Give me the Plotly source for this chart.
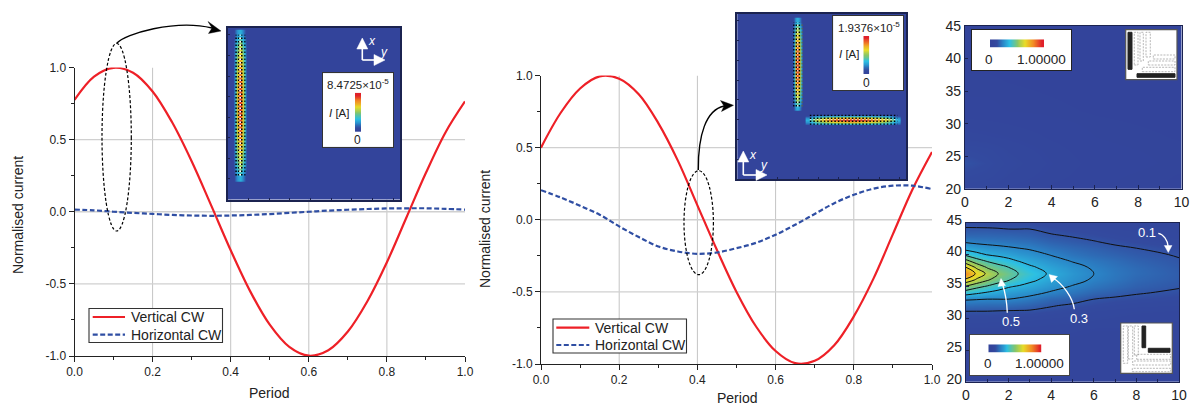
import plotly.graph_objects as go

W, H = 1192, 406
PERIOD = [0, .05, .1, .15, .2, .25, .3, .35, .4, .45, .5, .55, .6, .65, .7, .75, .8, .85, .9, .95, 1]
A_VERT = [.775, .937, .998, .964, .834, .62, .35, .044, -.267, -.552, -.783, -.937, -.998, -.96, -.83, -.62, -.35, -.04, .27, .55, .765]
A_HORZ = [.015, .01, 0, -.008, -.015, -.022, -.026, -.028, -.026, -.022, -.016, -.008, 0, .008, .014, .019, .023, .024, .024, .02, .015]
B_VERT = [.5, .74, .91, .994, .978, .87, .67, .41, .10, -.21, -.50, -.74, -.91, -.994, -.978, -.87, -.67, -.41, -.10, .21, .47]
B_HORZ = [.205, .155, .097, .035, -.046, -.12, -.185, -.22, -.236, -.227, -.197, -.16, -.104, -.035, .04, .115, .173, .215, .236, .236, .213]
SERIES = ["Vertical CW", "Horizontal CW"]
GRID_X = [.2, .4, .6, .8]
GRID_Y = [-.5, 0, .5]
X_TICKS = [0, .2, .4, .6, .8, 1]
X_LABELS = ["0.0", "0.2", "0.4", "0.6", "0.8", "1.0"]
Y_TICKS = [-1, -.5, 0, .5, 1]
Y_LABELS = ["-1.0", "-0.5", "0.0", "0.5", "1.0"]

MAP_X = [0, .5, 1, 1.5, 2, 2.5, 3, 4, 5, 6, 7, 8, 10]
MAP_Y = [20, 25, 28, 30, 31, 32, 33, 34, 35, 36, 37, 38, 39, 40, 41, 42, 43, 44, 45]
MAP_Z = [
    [.01] * 13,
    [.02] * 13,
    [.04, .04, .04, .04, .04, .04, .04, .035, .035, .03, .03, .03, .025],
    [.07, .07, .07, .067, .065, .065, .065, .06, .055, .05, .045, .04, .035],
    [.095, .095, .095, .092, .09, .09, .09, .08, .07, .06, .055, .05, .045],
    [.145, .142, .14, .14, .14, .133, .125, .105, .09, .08, .07, .065, .06],
    [.21, .205, .2, .2, .2, .19, .175, .14, .125, .10, .09, .085, .075],
    [.345, .315, .29, .27, .25, .235, .225, .19, .165, .135, .12, .105, .09],
    [.49, .43, .39, .345, .31, .29, .27, .23, .195, .165, .145, .125, .105],
    [.67, .58, .51, .45, .405, .36, .32, .265, .225, .19, .165, .14, .115],
    [.82, .68, .58, .505, .445, .395, .35, .285, .235, .2, .17, .148, .118],
    [.70, .58, .49, .44, .40, .36, .315, .265, .225, .19, .165, .145, .113],
    [.53, .44, .39, .355, .325, .295, .27, .23, .195, .17, .15, .13, .105],
    [.375, .33, .295, .28, .265, .245, .23, .195, .165, .145, .13, .115, .095],
    [.265, .245, .23, .22, .21, .2, .19, .16, .14, .125, .11, .10, .08],
    [.19, .18, .175, .17, .165, .16, .155, .13, .115, .103, .09, .08, .065],
    [.14, .14, .14, .137, .135, .13, .125, .105, .095, .085, .075, .065, .055],
    [.105, .105, .105, .103, .10, .10, .10, .085, .075, .07, .06, .055, .045],
    [.085, .083, .08, .08, .08, .08, .08, .07, .06, .055, .05, .045, .04],
]
MAP_LEVELS = (.1, .7, .1)
TOP_X = [0, 1, 2, 4, 6, 10]
TOP_Y = [20, 22, 24, 26, 28, 32, 45]
TOP_Z = [
    [.05, .04, .03, .015, .01, .005],
    [.075, .065, .045, .025, .012, .006],
    [.095, .08, .055, .03, .015, .008],
    [.075, .065, .045, .025, .012, .008],
    [.04, .035, .03, .018, .01, .006],
    [.012, .012, .01, .008, .006, .004],
    [0, 0, 0, 0, 0, 0],
]
BAR_Z = [
    [0, .14, .24, .3, .22, .08, 0],
    [0, .26, .42, .6, .44, .2, 0],
    [0, .3, .54, .76, .56, .24, 0],
    [0, .32, .62, .86, .64, .26, 0],
    [0, .34, .68, .94, .7, .28, 0],
    [0, .35, .72, .98, .72, .28, 0],
    [0, .35, .74, 1, .74, .28, 0],
    [0, .35, .72, .98, .72, .28, 0],
    [0, .34, .68, .94, .7, .28, 0],
    [0, .32, .62, .86, .64, .26, 0],
    [0, .3, .54, .76, .56, .24, 0],
    [0, .26, .42, .6, .44, .2, 0],
    [0, .14, .24, .3, .22, .08, 0],
]
STRIP = [0, .1, .2, .3, .4, .5, .6, .7, .8, .9, 1]
RAINBOW = [[0, "#33449b"], [.08, "#334a9f"], [.2, "#2a86c8"], [.33, "#2cc0e4"], [.5, "#86c66a"],
           [.66, "#e8dc28"], [.83, "#f28a24"], [1, "#e0202a"]]
INK = "#222222"
FONT = "Liberation Sans, Arial, sans-serif"
NAVY = "#1b2350"

fig = go.Figure()
layout = dict(width=W, height=H, margin=dict(l=0, r=0, t=0, b=0), autosize=False, plot_bgcolor="white",
              paper_bgcolor="white", font=dict(family=FONT, size=12, color=INK), shapes=[], annotations=[],
              showlegend=False)
count = [0]

def fx(p):
    return p / W

def fy(p):
    return 1 - p / H

def axes(l, t, r, b, xopts, yopts):
    count[0] += 1
    n = count[0]
    sfx = "" if n == 1 else str(n)
    xa = dict(domain=[fx(l), fx(r)], anchor="y" + sfx, showgrid=False, zeroline=False, automargin=False)
    ya = dict(domain=[fy(b), fy(t)], anchor="x" + sfx, showgrid=False, zeroline=False, automargin=False)
    xa.update(xopts)
    ya.update(yopts)
    layout["xaxis" + sfx] = xa
    layout["yaxis" + sfx] = ya
    return "x" + sfx, "y" + sfx

def chart(l, r, t, b, xs, vert, horz):
    xa, ya = axes(l, t, r, b,
                  dict(range=[0, 1], tickmode="array", tickvals=X_TICKS, ticktext=X_LABELS, ticks="outside", ticklen=5,
                       tickwidth=1, showline=True, linecolor=INK, linewidth=1, tickcolor=INK,
                       minor=dict(dtick=.1, ticks="outside", ticklen=3, tickcolor=INK)),
                  dict(range=[-1, 1], tickmode="array", tickvals=Y_TICKS, ticktext=Y_LABELS, ticks="outside", ticklen=5,
                       tickwidth=1, showline=True, linecolor=INK, linewidth=1, tickcolor=INK,
                       minor=dict(dtick=.25, ticks="outside", ticklen=3, tickcolor=INK)))
    for g in GRID_X:
        layout["shapes"].append(dict(type="line", xref=xa, yref=ya, x0=g, x1=g, y0=-1, y1=1, layer="below",
                                     line=dict(color="#c4c4c4", width=1)))
    for g in GRID_Y:
        layout["shapes"].append(dict(type="line", xref=xa, yref=ya, x0=0, x1=1, y0=g, y1=g, layer="below",
                                     line=dict(color="#d0d0d0", width=1.3)))
    fig.add_trace(go.Scatter(x=xs, y=vert, name=SERIES[0], mode="lines", xaxis=xa, yaxis=ya,
                             line=dict(color="#ee2027", width=2.2, shape="spline")))
    fig.add_trace(go.Scatter(x=xs, y=horz, name=SERIES[1], mode="lines", xaxis=xa, yaxis=ya,
                             line=dict(color="#2f4ea3", width=2.2, shape="spline", dash="5px,2.5px")))

def solid(xa, ya, color):
    fig.add_trace(go.Heatmap(z=[[0, 0], [0, 0]], x=[0, 100], y=[0, 100], xaxis=xa, yaxis=ya, showscale=False,
                             colorscale=[[0, color], [1, color]], zmin=0, zmax=1, hoverinfo="skip"))

def inset(l, t, r, b):
    tick = dict(range=[0, 100], tick0=0, dtick=12, ticks="inside", ticklen=2, tickcolor=NAVY, showticklabels=False,
                showline=True, mirror=True, linecolor=NAVY, linewidth=1.5)
    xa, ya = axes(l, t, r, b, dict(tick), dict(tick))
    solid(xa, ya, "#33449b")
    return xa, ya

def heat(xa, ya, x, y, z):
    fig.add_trace(go.Heatmap(z=z, x=x, y=y, xaxis=xa, yaxis=ya, showscale=False, colorscale=RAINBOW, zmin=0, zmax=1,
                             zsmooth="best", hoverinfo="skip"))

def dots(xa, ya, x, y, color, width=1.5):
    fig.add_trace(go.Scatter(x=x, y=y, mode="lines", xaxis=xa, yaxis=ya, showlegend=False, hoverinfo="skip",
                             line=dict(color=color, width=width, dash="1.5px,2px")))

def white_box(l, t, r, b, border="#333333"):
    opts = dict(range=[0, 100], showticklabels=False, ticks="", showline=True, mirror=True, linecolor=border, linewidth=1.2)
    xa, ya = axes(l, t, r, b, dict(opts), dict(opts))
    solid(xa, ya, "white")

def strip(l, t, r, b, vertical):
    opts = dict(showticklabels=False, ticks="", showline=False)
    xa, ya = axes(l, t, r, b, dict(opts), dict(opts))
    if vertical:
        fig.add_trace(go.Heatmap(z=[[v] for v in STRIP], xaxis=xa, yaxis=ya, showscale=False, colorscale=RAINBOW,
                                 zmin=0, zmax=1, zsmooth="best", hoverinfo="skip"))
    else:
        fig.add_trace(go.Heatmap(z=[STRIP], xaxis=xa, yaxis=ya, showscale=False, colorscale=RAINBOW,
                                 zmin=0, zmax=1, zsmooth="best", hoverinfo="skip"))

def text(px, py, s, size=13, color=INK, anchor="center", angle=0):
    layout["annotations"].append(dict(xref="paper", yref="paper", x=fx(px), y=fy(py), text=s, showarrow=False,
                                      xanchor=anchor, yanchor="middle", textangle=angle,
                                      font=dict(size=size, color=color, family=FONT)))

def path(points, fill=None, color="black", width=1.3, dash=None, close=False):
    out = []
    for cmd, *vals in points:
        nums = []
        for i in range(0, len(vals), 2):
            nums.append(f"{fx(vals[i]):.5f},{fy(vals[i + 1]):.5f}")
        out.append(cmd + " " + " ".join(nums))
    d = " ".join(out) + (" Z" if close else "")
    sh = dict(type="path", xref="paper", yref="paper", path=d, layer="above", line=dict(color=color, width=width))
    if dash:
        sh["line"]["dash"] = dash
    if fill:
        sh["fillcolor"] = fill
    layout["shapes"].append(sh)

def rect(l, t, r, b, fill=None, color="black", width=1, dash=None):
    sh = dict(type="rect", xref="paper", yref="paper", x0=fx(l), x1=fx(r), y0=fy(b), y1=fy(t), layer="above",
              line=dict(color=color, width=width))
    if dash:
        sh["line"]["dash"] = dash
    if fill:
        sh["fillcolor"] = fill
    layout["shapes"].append(sh)

def ellipse(l, t, r, b):
    layout["shapes"].append(dict(type="circle", xref="paper", yref="paper", x0=fx(l), x1=fx(r), y0=fy(b), y1=fy(t),
                                 layer="above", line=dict(color="black", width=1.2, dash="3px,2px")))

def triad(ox, oy, up, right, xpos, ypos):
    path([("M", ox, oy), ("L", ox, up + 8)], color="white", width=1.6)
    path([("M", ox, oy), ("L", right - 8, oy)], color="white", width=1.6)
    path([("M", ox, up), ("L", ox + 5.5, up + 11), ("L", ox - 5.5, up + 11)], fill="white", color="white", width=.5, close=True)
    path([("M", right, oy), ("L", right - 11, oy - 5.5), ("L", right - 11, oy + 5.5)], fill="white", color="white", width=.5, close=True)
    text(xpos[0], xpos[1], "<i>x</i>", 12, "white")
    text(ypos[0], ypos[1], "<i>y</i>", 12, "white")

def legend_box(l, t, r, b, x0, x1, ty, by, tx):
    rect(l, t, r, b, fill="white", color="#333333", width=1.1)
    path([("M", x0, ty), ("L", x1, ty)], color="#ee2027", width=2.2)
    path([("M", x0, by), ("L", x1, by)], color="#2f4ea3", width=2.2, dash="5px,2.5px")
    text(tx, ty, SERIES[0], 14, anchor="left")
    text(tx, by, SERIES[1], 14, anchor="left")

# ---- line charts
chart(74.5, 465, 67.5, 356, PERIOD, A_VERT, A_HORZ)
chart(541, 932, 75.5, 364, PERIOD, B_VERT, B_HORZ)
text(269.3, 392.7, "Period", 14)
text(18, 215, "Normalised current", 14, angle=-90)
text(736.7, 397.5, "Period", 14)
text(485, 229, "Normalised current", 14, angle=-90)
legend_box(89, 308.5, 222.5, 342.5, 92.7, 125, 317, 334.7, 129.3)
legend_box(553, 319, 686.5, 353, 556.3, 589.3, 327.7, 345, 592.7)

# ---- right colour maps
map_x = dict(range=[0, 10], tick0=0, dtick=2, ticks="inside", ticklen=4, tickcolor=NAVY, showline=True, mirror=True,
             linecolor=NAVY, linewidth=1.3, minor=dict(dtick=1, ticks="inside", ticklen=3, tickcolor=NAVY),
             tickfont=dict(size=14))
map_y = dict(range=[20, 45], tick0=20, dtick=5, ticks="inside", ticklen=3, tickcolor=NAVY, showline=True, mirror=True,
             linecolor=NAVY, linewidth=1.3, tickfont=dict(size=14))
xa, ya = axes(965, 26, 1181.5, 188.7, dict(map_x), dict(map_y))
heat(xa, ya, TOP_X, TOP_Y, TOP_Z)
xb, yb = axes(966, 222.7, 1179, 382, dict(map_x), dict(map_y, ticklabelshift=-3))
heat(xb, yb, MAP_X, MAP_Y, MAP_Z)
fig.add_trace(go.Contour(z=MAP_Z, x=MAP_X, y=MAP_Y, xaxis=xb, yaxis=yb, showscale=False, hoverinfo="skip",
                         contours=dict(coloring="none", start=MAP_LEVELS[0], end=MAP_LEVELS[1], size=MAP_LEVELS[2]),
                         line=dict(color="#111111", width=1, smoothing=1.1), autocontour=False))
white_box(971.7, 30, 1071.3, 70.3, "#222222")
strip(990, 39.3, 1044, 47.7, False)
white_box(969.7, 335, 1069.3, 375, "#444444")
strip(988.3, 344.3, 1041.7, 352.7, False)
text(989.3, 59.3, "0", 13.5)
text(1041, 59.3, "1.00000", 13.5)
text(987.7, 363.3, "0", 13.5)
text(1039, 363.3, "1.00000", 13.5)

# schematics
rect(1125.7, 29.7, 1177, 79.7, fill="white", color="#555555", width=1.2)
rect(1128, 32.3, 1132, 69.3, fill="#222222", color="#222222")
rect(1137, 73.7, 1175, 77.3, fill="#222222", color="#222222")
for l, r, b in [(1134.3, 1138, 65), (1140, 1143.3, 61), (1146, 1150.3, 57)]:
    rect(l, 32.3, r, b, color="#999999", width=.7, dash="2px,1.2px")
for l, t, b in [(1153.3, 55, 59), (1148.3, 61, 65), (1142.3, 67.3, 71.7)]:
    rect(l, t, 1175, b, color="#999999", width=.7, dash="2px,1.2px")
rect(1120.7, 323, 1172.3, 373.3, fill="white", color="#555555", width=1.2)
rect(1142, 326, 1145.7, 347.7, fill="#222222", color="#222222")
rect(1148.3, 348.3, 1170, 352.3, fill="#222222", color="#222222")
for l, r, b in [(1123.3, 1127.7, 363.3), (1128.3, 1132.7, 359), (1134.3, 1138.3, 355)]:
    rect(l, 326, r, b, color="#999999", width=.7, dash="2px,1.2px")
for l, t, b in [(1136.7, 354.3, 359.3), (1132.7, 361, 365), (1132.3, 368.3, 371.7)]:
    rect(l, t, 1170.7, b, color="#999999", width=.7, dash="2px,1.2px")

# map labels + white arrows
text(1147.3, 232.3, "0.1", 13, "white")
text(1079, 318.3, "0.3", 13, "white")
text(1010.7, 321, "0.5", 13, "white")
path([("M", 1158.3, 233.3), ("C", 1163, 234, 1168, 240, 1168.3, 247)], color="white", width=1.3)
path([("M", 1168.3, 252.5), ("L", 1164.3, 245.5), ("L", 1172, 245.5)], fill="white", color="white", width=.4, close=True)
path([("M", 1074.3, 309.3), ("C", 1073, 298, 1063, 284, 1053, 278)], color="white", width=1.3)
path([("M", 1049, 274.5), ("L", 1057.5, 276.5), ("L", 1051.5, 282.5)], fill="white", color="white", width=.4, close=True)
path([("M", 1007.3, 312.7), ("C", 1007, 304, 1005, 292, 1002.5, 284)], color="white", width=1.3)
path([("M", 1001, 278.5), ("L", 1005.5, 285.5), ("L", 998, 286.5)], fill="white", color="white", width=.4, close=True)

# ---- inset A
ia, ja = inset(228, 28, 400, 199.5)
BAR_A_X = [3.0, 4.0, 5.2, 7.0, 8.6, 9.8, 10.8]
BAR_A_Y = [13.5, 20, 27, 34, 41, 48, 55, 62, 69, 76, 83, 90, 96]
heat(ia, ja, BAR_A_X, BAR_A_Y, BAR_Z)
for c, col, w in [(4.7, "black", 1.5), (6.2, "black", 1.6), (7.1, "white", 1.7), (8.0, "black", 1.6), (9.8, "black", 1.2)]:
    dots(ia, ja, [c, c], [14, 96], col, w)
white_box(322.7, 73.3, 393.3, 146.7)
strip(355, 92.7, 361, 132, True)
text(358.3, 84, "8.4725×10<sup>-5</sup>", 11.5)
text(339.3, 112.7, "<i>I</i> [A]", 11.5)
text(357.7, 140, "0", 12)
triad(362.3, 60, 38, 385, (372.3, 40.7), (383.7, 52.3))

# ---- inset B
ib, jb = inset(737.3, 14, 906, 179)
BAR_B_V_X = [32.6, 33.7, 34.7, 35.7, 36.7, 37.7, 38.8]
BAR_B_V_Y = [43.5, 48, 52, 56, 60, 65, 69, 73, 78, 82, 87, 91, 95.5]
BAR_B_H_X = [42.5, 46.5, 51, 55, 59, 64, 68, 72, 77, 81, 86, 90, 94.5]
BAR_B_H_Y = [32.6, 33.7, 34.8, 35.9, 37, 38, 39]
heat(ib, jb, BAR_B_V_X, BAR_B_V_Y, BAR_Z)
heat(ib, jb, BAR_B_H_X, BAR_B_H_Y, [list(r) for r in zip(*BAR_Z)])
for c, col, w in [(33.5, "black", 1.3), (35.0, "black", 1.5), (35.9, "white", 1.2), (36.8, "black", 1.5), (38.4, "#6a6a2a", 1)]:
    dots(ib, jb, [c, c], [44, 95], col, w)
for c, col, w in [(38.6, "black", 1.3), (36.8, "black", 1.5), (35.9, "white", 1.2), (35.0, "black", 1.5), (33.3, "black", 1.3)]:
    dots(ib, jb, [43, 95], [c, c], col, w)
white_box(833.3, 16, 903.3, 90)
strip(863.3, 36, 869.3, 74.3, True)
text(869.3, 27.3, "1.9376×10<sup>-5</sup>", 11.5)
text(849.3, 54.3, "<i>I</i> [A]", 11.5)
text(866, 83, "0", 12)
triad(743.3, 175, 151, 767, (753.3, 155), (764.3, 165))

# ---- ellipses & black arrows
ellipse(102, 43.5, 131.3, 231)
ellipse(684, 170.7, 713.4, 274.7)
path([("M", 116.7, 43.3), ("C", 125, 34, 175, 19, 212, 28)], color="black", width=1.4)
path([("M", 221, 31), ("L", 208, 21.5), ("L", 212, 28), ("L", 208.5, 33.5)], fill="black", color="black", width=.4, close=True)
path([("M", 698.3, 170), ("C", 698, 135, 706, 110, 724, 106)], color="black", width=1.4)
path([("M", 733.5, 105.3), ("L", 720.5, 100.5), ("L", 724, 106), ("L", 721.5, 111.5)], fill="black", color="black", width=.4, close=True)

fig.update_layout(**layout)
fig.write_html("out.html", config=dict(displayModeBar=False),
               post_script="document.body.style.margin='0';document.body.style.overflow='hidden';")
